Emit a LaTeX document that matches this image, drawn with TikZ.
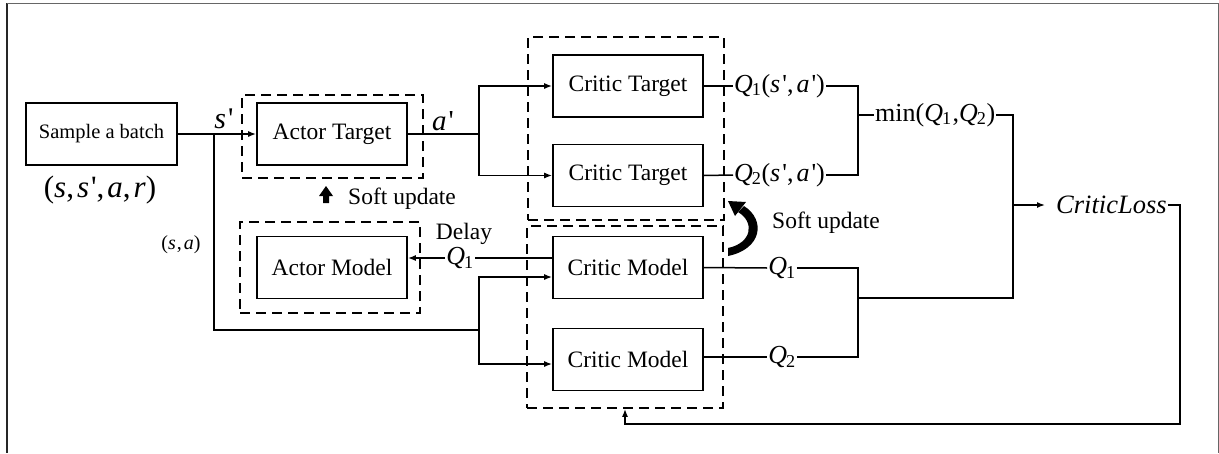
\documentclass[tikz,border=0pt]{standalone}
\usepackage{fontspec}
\setmainfont{Liberation Serif}[ItalicFont={Liberation Serif Italic}]
\usetikzlibrary{arrows.meta,calc}
% italic Q with a roman index, and a straight prime
\newcommand{\vq}[1]{\textit{Q}\kern-1pt\textsubscript{#1}}
\newcommand{\pr}{\kern2pt\textquotesingle}
\newcommand{\cs}{,\kern3pt}
\begin{document}
\begin{tikzpicture}[x=1pt,y=-1pt,
  box/.style={draw,line width=1.6pt,minimum width=150pt,minimum height=62pt,inner sep=0pt,
    font=\fontsize{23.5}{26}\selectfont},
  grp/.style={draw,line width=1.6pt,dash pattern=on 10pt off 6pt,inner sep=0pt},
  lbl/.style={inner sep=1pt,font=\fontsize{26}{28}\selectfont},
  txt/.style={inner sep=1pt,font=\fontsize{23.5}{26}\selectfont},
  wire/.style={line width=1.5pt},
  arr/.style={wire,-{Latex[length=8pt,width=6pt]}}]
\useasboundingbox (0,0) rectangle (1219,453);
% frame
\draw[line width=1.3pt,black!85] (7,3) -- (7,453);
\draw[line width=1pt,black!60] (7,3) -- (1218,3) -- (1218,453);

% dashed groups
\node[grp,minimum width=181pt,minimum height=83pt] (atg) at (332.5,136.5) {};
\node[grp,minimum width=180pt,minimum height=91pt] (amg) at (330,267.5) {};
\node[grp,minimum width=196pt,minimum height=183pt] (ctg) at (626,128.5) {};
\node[grp,minimum width=196pt,minimum height=182pt] (cmg) at (625,317) {};

% blocks
\node[box,minimum width=151pt,font=\fontsize{20.5}{24}\selectfont] (sb) at (101.5,134) {Sample a batch};
\node[box] (at) at (332,134) {Actor Target};
\node[box] (am) at (332,267.5) {Actor Model};
\node[box] (ct1) at (628,86) {Critic Target};
\node[box] (ct2) at (628,175.5) {Critic Target};
\node[box] (cm1) at (628,267.5) {Critic Model};
\node[box] (cm2) at (628,359.5) {Critic Model};

% labels
\node[inner sep=0pt,font=\fontsize{31}{34}\selectfont] (batch) at (100,190)
  {(\textit{s}\cs\textit{s}\pr\cs\textit{a}\cs\textit{r})};
\node[inner sep=0pt,font=\fontsize{30}{32}\selectfont] (sp) at (224,119) {\textit{s}\pr};
\node[inner sep=0pt,font=\fontsize{29}{32}\selectfont] (ap) at (443,121) {\textit{a}\pr};
\node[inner sep=0pt,font=\fontsize{20}{22}\selectfont] (sa) at (181,245) {(\textit{s}\kern1pt,\kern2pt\textit{a})};
\node[lbl,anchor=west] (q1t) at (733,86) {\vq{1}(\textit{s}\pr\cs\textit{a}\pr)};
\node[lbl,anchor=west] (q2t) at (733,175) {\vq{2}(\textit{s}\pr\cs\textit{a}\pr)};
\node[lbl,anchor=west] (minq) at (874,115) {min(\vq{1}\kern1pt,\vq{2})};
\node[lbl,anchor=west,font=\fontsize{26.5}{28}\selectfont] (loss) at (1055,205) {\textit{CriticLoss}};
\node[lbl] (q1m) at (782,268) {\vq{1}};
\node[lbl] (q2m) at (782,357) {\vq{2}};
\node[lbl] (q1d) at (460,258) {\vq{1}};
\node[txt] (delay) at (464,234) {Delay};
\node[txt,anchor=west] (su1) at (347,199) {Soft update};
\node[txt,anchor=west] (su2) at (771,223) {Soft update};

% sample -> actor target, and the (s,a) branch to both critic models
\coordinate (j1) at (214,134);
\coordinate (j2) at (479,330);
\draw[arr] (sb.east) -- (at.west);
\draw[wire] (j1) |- (j2);
\draw[arr] (j2) |- ($(cm1.west)+(0,9.5)$);
\draw[arr] (j2) |- ($(cm2.west)+(0,4.5)$);

% a' to both critic targets
\coordinate (j3) at (479,134);
\draw[wire] (at.east) -- (j3);
\draw[arr] (j3) |- (ct1.west);
\draw[arr] (j3) |- (ct2.west);

% target values and their minimum
\coordinate (bt) at (858,86);
\coordinate (bb) at (858,175);
\coordinate (bm) at (858,115);
\draw[wire] (ct1.east) -- (q1t.west);
\draw[wire] (ct2.east) -- (q2t.west);
\draw[wire] (q1t.east) -- (bt) -- (bb) -- (q2t.east);
\draw[wire] (bm) -- (minq.west);

% critic model outputs
\coordinate (mt) at (858,268);
\coordinate (mb) at (858,357);
\coordinate (mm) at (858,298);
\draw[wire] (cm1.east) -- (q1m.west);
\draw[wire] (cm2.east |- q2m.west) -- (q2m.west);
\draw[wire] (q1m.east) -- (mt) -- (mb) -- (q2m.east);

% join into the critic loss
\coordinate (r1) at (1013,115);
\coordinate (r2) at (1013,298);
\coordinate (r3) at (1013,205);
\draw[wire] (minq.east) -- (r1) -- (r2) -- (mm);
\draw[arr] (r3) -- ($(loss.west)+(-10,0)$);

% loss fed back to the critic models
\coordinate (f1) at (1180,424);
\coordinate (f2) at (625,424);
\draw[arr] (loss.east) -| (f1) -- (f2) -- (cmg.south);

% delayed Q1 to the actor model
\draw[wire] ($(cm1.west)+(0,-9.5)$) -- (q1d.east);
\draw[arr] (q1d.west) -- (am.east |- q1d.west);

% soft update arrows
\fill (326,186) -- (333,196) -- (329,196) -- (329,203) -- (323,203) -- (323,196) -- (319,196) -- cycle;
\fill (744,206) .. controls (766,220) and (762,249) .. (728,256)
  -- (728,248) .. controls (752,243) and (755,222) .. (738,212) -- cycle;
\fill (728,201) -- (746,202) -- (735,216) -- cycle;
\end{tikzpicture}
\end{document}
